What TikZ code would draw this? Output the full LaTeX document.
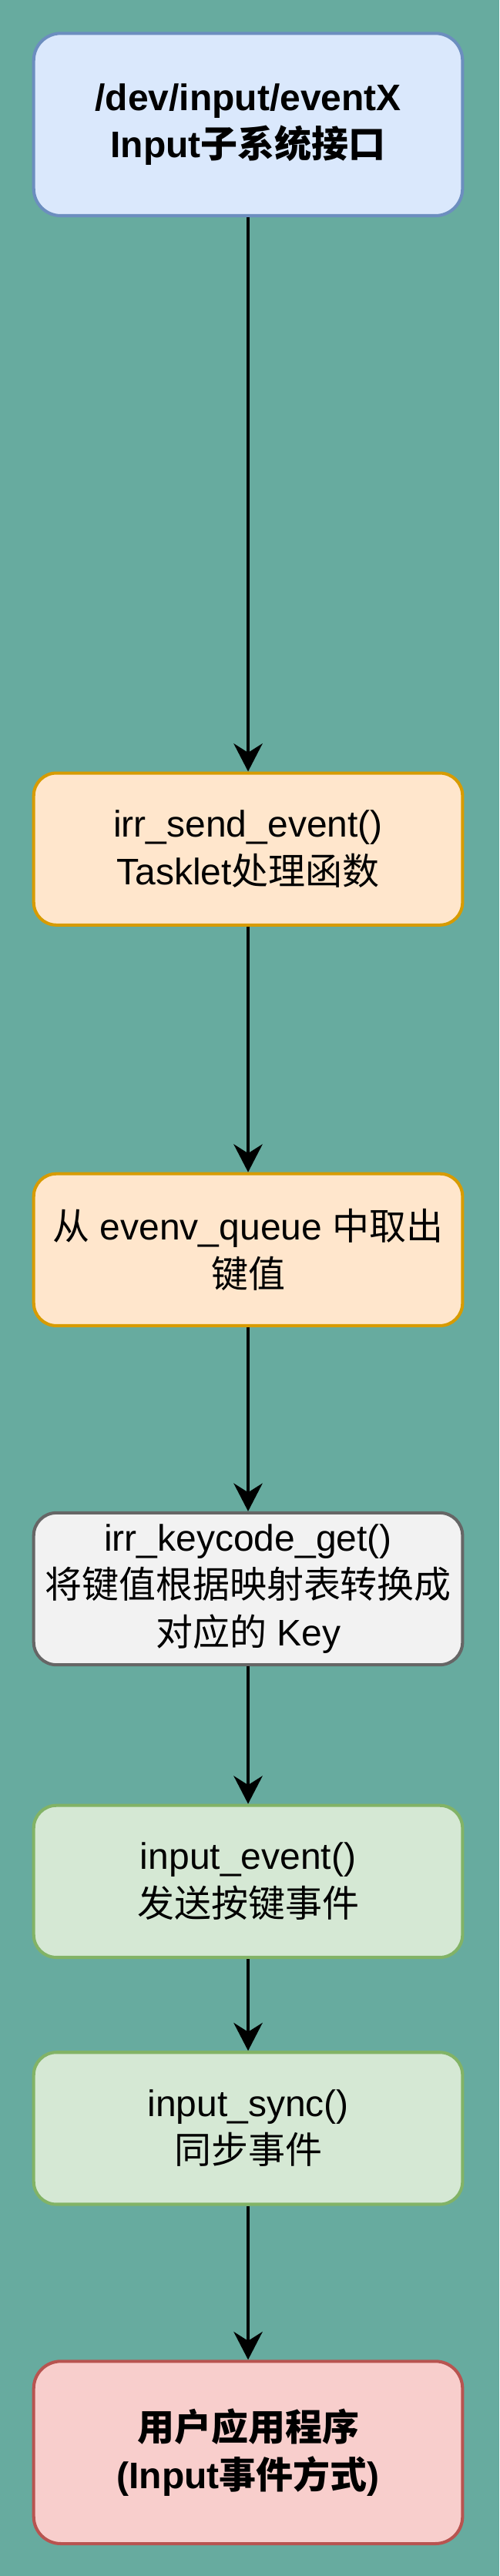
\documentclass[tikz,border=0pt]{standalone}
\usepackage{fontspec}
\setmainfont{Liberation Sans}
\newfontfamily\cjk{Noto Sans CJK SC}
\usetikzlibrary{arrows.meta}
\definecolor{bgteal}{HTML}{67AB9F}
\definecolor{bluefill}{HTML}{DAE8FC}
\definecolor{blueline}{HTML}{6C8EBF}
\definecolor{orangefill}{HTML}{FFE6CC}
\definecolor{orangeline}{HTML}{D79B00}
\definecolor{grayfill}{HTML}{F2F2F2}
\definecolor{grayline}{HTML}{666666}
\definecolor{greenfill}{HTML}{D5E8D4}
\definecolor{greenline}{HTML}{82B366}
\definecolor{redfill}{HTML}{F8CECC}
\definecolor{redline}{HTML}{B85450}
\begin{document}
\begin{tikzpicture}[x=1pt, y=1pt,
    box/.style={draw, rounded corners=13.8pt, line width=1.9pt, minimum width=261pt,
        minimum height=92.5pt, align=center, inner sep=0pt, font=\fontsize{22.5}{28.8}\selectfont},
    bigbox/.style={box, rounded corners=16.5pt, minimum height=111pt,
        font=\fontsize{22.5}{28.8}\selectfont\bfseries},
    flow/.style={-{Stealth[length=17pt, width=17.5pt, inset=5.5pt]}, line width=1.9pt}]
    % 背景
    \fill[bgteal] (0,0) rectangle (304,-1568);
    % 接口
    \node[bigbox, fill=bluefill, draw=blueline] (iface) at (151,-75.8)
        {/dev/input/eventX\\Input{\cjk 子系统接口}};
    % tasklet
    \node[box, fill=orangefill, draw=orangeline] (tasklet) at (151,-516.8)
        {irr\_send\_event()\\Tasklet{\cjk 处理函数}};
    \node[box, fill=orangefill, draw=orangeline] (queue) at (151,-760.7)
        {{\cjk 从} evenv\_queue {\cjk 中取出}\\{\cjk 键值}};
    % 键值映射
    \node[box, fill=grayfill, draw=grayline] (keymap) at (151,-967.1)
        {irr\_keycode\_get()\\{\cjk 将键值根据映射表转换成}\\{\cjk 对应的} Key};
    % 上报
    \node[box, fill=greenfill, draw=greenline] (report) at (151,-1145.2)
        {input\_event()\\{\cjk 发送按键事件}};
    \node[box, fill=greenfill, draw=greenline] (sync) at (151,-1295.5)
        {input\_sync()\\{\cjk 同步事件}};
    % 应用
    \node[bigbox, fill=redfill, draw=redline] (app) at (151,-1492.8)
        {{\cjk 用户应用程序}\\(Input{\cjk 事件方式})};
    % 箭头
    \draw[flow] (iface) -- (tasklet);
    \draw[flow] (tasklet) -- (queue);
    \draw[flow] (queue) -- (keymap);
    \draw[flow] (keymap) -- (report);
    \draw[flow] (report) -- (sync);
    \draw[flow] (sync) -- (app);
\end{tikzpicture}
\end{document}
